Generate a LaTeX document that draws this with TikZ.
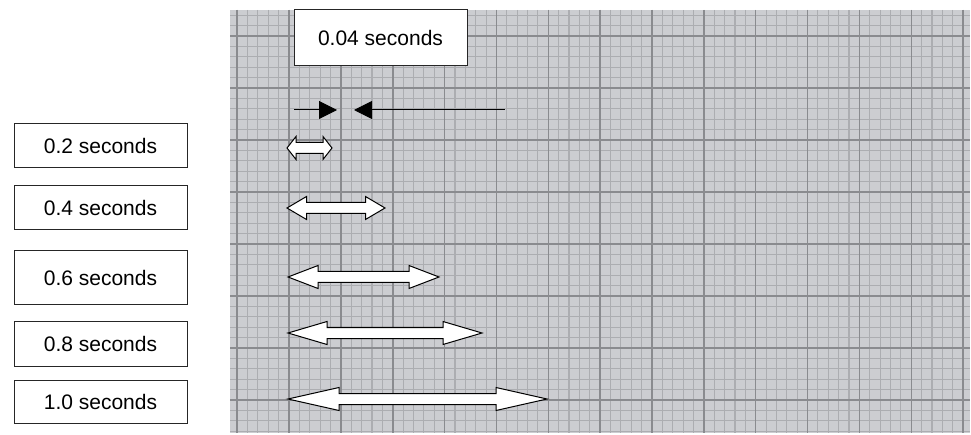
\documentclass[tikz,border=0pt]{standalone}
\usepackage{fontspec}
\setmainfont{Liberation Sans}
\usetikzlibrary{arrows.meta}
\definecolor{paper}{RGB}{204,205,209}
\definecolor{minorln}{RGB}{172,173,177}
\definecolor{majorln}{RGB}{138,139,143}
\tikzset{
  lbox/.style={draw=black!85, line width=1pt, fill=white, inner sep=0pt,
    minimum width=173pt, font=\fontsize{21}{25}\selectfont},
  dbl/.style={draw=black, line width=1pt, fill=white, line join=miter},
  blackarr/.style={draw=black, line width=1pt, -{Triangle[length=18pt,width=18pt]}},
}
\newcommand{\dblarr}[4]{%
  \draw[dbl] (#2,#1) -- ({#2+#4},{#1-11.5}) -- ({#2+#4},{#1-5.5}) -- ({#3-#4},{#1-5.5})
    -- ({#3-#4},{#1-11.5}) -- (#3,#1) -- ({#3-#4},{#1+11.5}) -- ({#3-#4},{#1+5.5})
    -- ({#2+#4},{#1+5.5}) -- ({#2+#4},{#1+11.5}) -- cycle;}
\begin{document}
\begin{tikzpicture}[x=1pt,y=-1pt]
\useasboundingbox (0,0) rectangle (971,435);
% graph paper
\fill[paper] (230,10) rectangle (970,433);
\begin{scope}
\clip (230,10) rectangle (970,433);
\foreach \i in {0,...,70} {
  \pgfmathsetmacro{\xx}{237.2+10.37*\i}
  \draw[minorln, line width=1.1pt] (\xx,10) -- (\xx,433);
}
\foreach \j in {-2,...,38} {
  \pgfmathsetmacro{\yy}{36+10.4*\j}
  \draw[minorln, line width=1.1pt] (230,\yy) -- (970,\yy);
}
\foreach \i in {0,...,14} {
  \pgfmathsetmacro{\xx}{237.2+51.85*\i}
  \draw[majorln, line width=1.5pt] (\xx,10) -- (\xx,433);
}
\foreach \j in {0,...,7} {
  \pgfmathsetmacro{\yy}{36+52*\j}
  \draw[majorln, line width=1.5pt] (230,\yy) -- (970,\yy);
}
\end{scope}
% top label
\node[lbox, minimum width=173pt, minimum height=56pt] (t04) at (380.5,38) {0.04 seconds};
% black arrows
\coordinate (a1s) at (294,110);
\coordinate (a1e) at (337,110);
\coordinate (a2s) at (505,110);
\coordinate (a2e) at (354,110);
\draw[blackarr] (a1s) -- (a1e);
\draw[blackarr] (a2s) -- (a2e);
% left labels
\node[lbox, minimum height=44pt] (t02) at (100.5,146) {0.2 seconds};
\node[lbox, minimum height=44pt] (t04b) at (100.5,208) {0.4 seconds};
\node[lbox, minimum height=54pt] (t06) at (100.5,278) {0.6 seconds};
\node[lbox, minimum height=44pt] (t08) at (100.5,344) {0.8 seconds};
\node[lbox, minimum height=43pt] (t10) at (100.5,401.5) {1.0 seconds};
% double arrows
\dblarr{148}{287}{332}{9}
\dblarr{208}{287}{385}{19.5}
\dblarr{277}{288}{439}{30}
\dblarr{333}{288}{482}{39}
\dblarr{399}{288}{547}{51}
\end{tikzpicture}
\end{document}
